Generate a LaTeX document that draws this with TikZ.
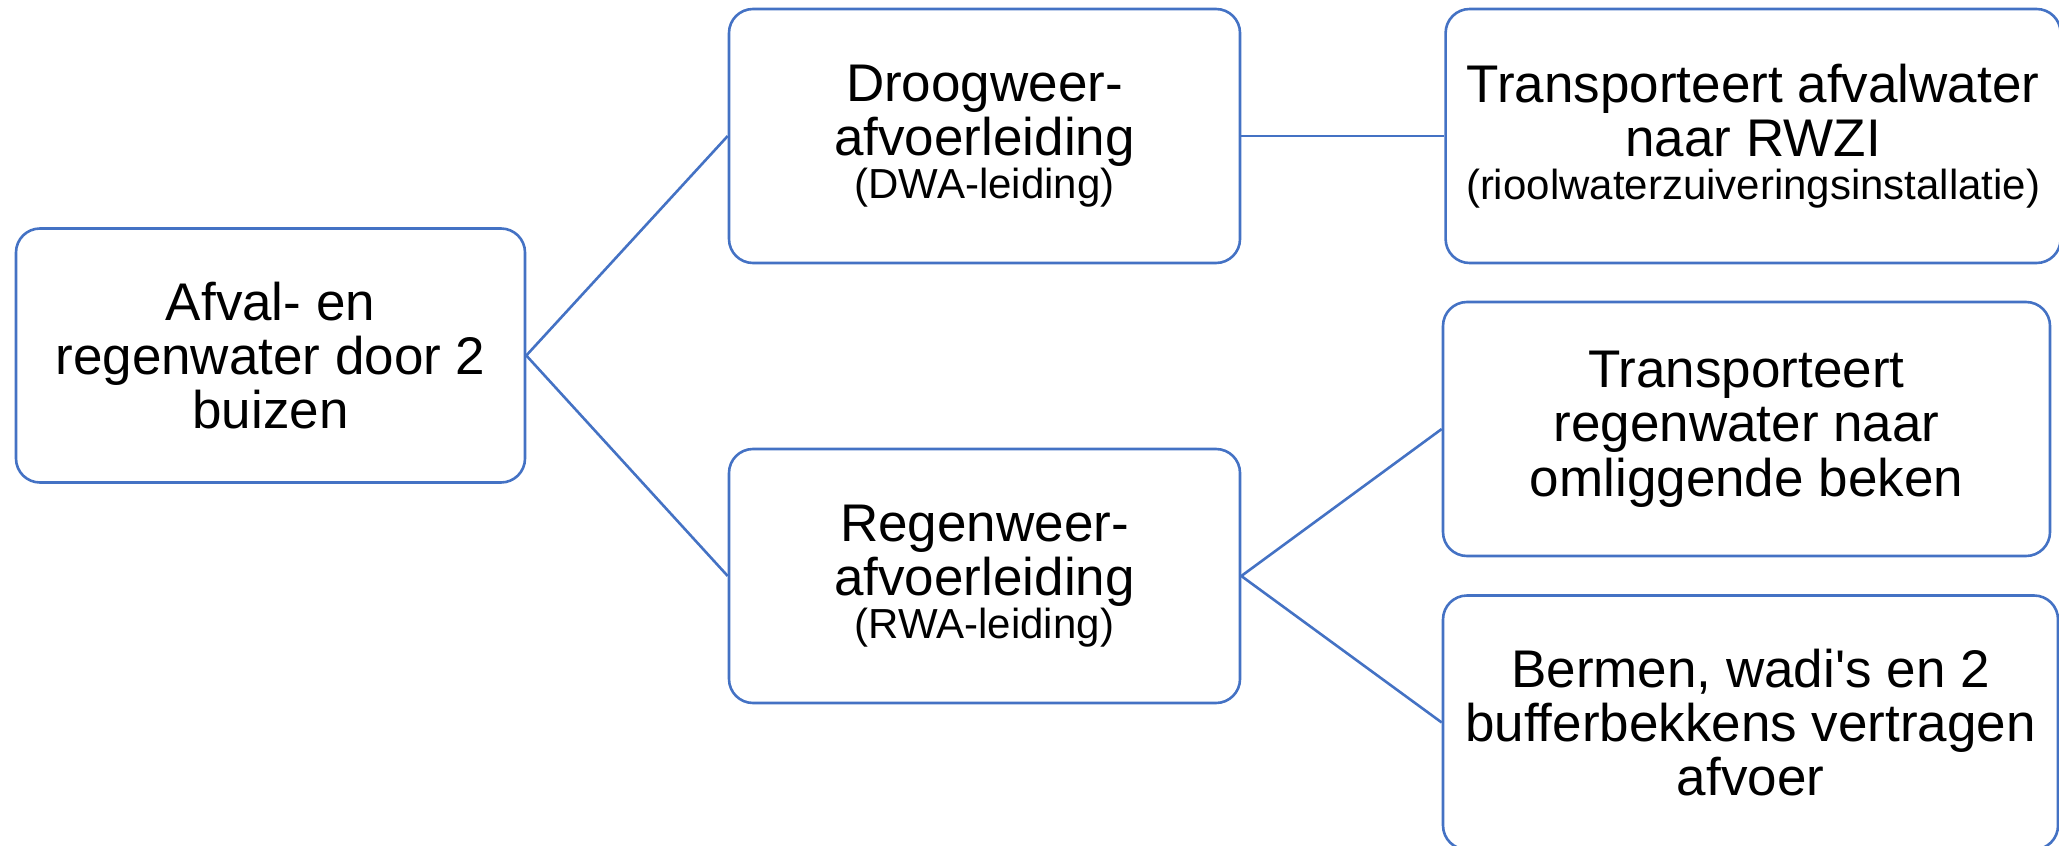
\documentclass[tikz,border=0pt]{standalone}
\usepackage{fontspec}
\setmainfont{Liberation Sans}
\usetikzlibrary{positioning}
\definecolor{lijnblauw}{HTML}{4472C4}
\newcommand{\klein}{\fontsize{21}{21}\selectfont}

\begin{document}
\begin{tikzpicture}[
                            x=0.5pt, y=-0.5pt,
                            node distance=101.5pt,
                            blok/.style={rectangle, rounded corners=12pt, draw=lijnblauw, line width=1.3pt, minimum height=127pt, inner sep=0pt, align=center, font=\fontsize{26.5}{27.2}\selectfont},
                            lijn/.style={draw=lijnblauw, line width=1.3pt}
                        ]
                        \useasboundingbox (0,0) rectangle (2059,845);
                        % Blocks
                        \node [blok, minimum width=254.5pt] (bron) at (270.5,355.5) {Afval- en\\regenwater door 2\\buizen};
                        \node [blok, minimum width=255.5pt] (dwa) at (984.5,136) {Droogweer-\\afvoerleiding\\[-6pt]{\klein (DWA-leiding)}};
                        \node [blok, minimum width=255.5pt] (rwa) at (984.5,576) {Regenweer-\\afvoerleiding\\[-6pt]{\klein (RWA-leiding)}};
                        \node [blok, minimum width=307.5pt, right=of dwa] (rwzi) {Transporteert afvalwater\\naar RWZI\\[-6pt]{\klein (rioolwaterzuiveringsinstallatie)}};
                        \node [blok, minimum width=303.5pt] (beken) at (1746.5,429) {Transporteert\\regenwater naar\\omliggende beken};
                        \node [blok, minimum width=307.5pt] (buffer) at (1750.5,722.5) {Bermen, wadi\textquotesingle s en 2\\bufferbekkens vertragen\\afvoer};

                        % Connections
                        \draw [lijn] (bron.east) -- (dwa.west);
                        \draw [lijn] (bron.east) -- (rwa.west);
                        \draw [lijn] (dwa.east) -- (rwzi.west);
                        \draw [lijn] (rwa.east) -- (beken.west);
                        \draw [lijn] (rwa.east) -- (buffer.west);
                    \end{tikzpicture}
\end{document}
